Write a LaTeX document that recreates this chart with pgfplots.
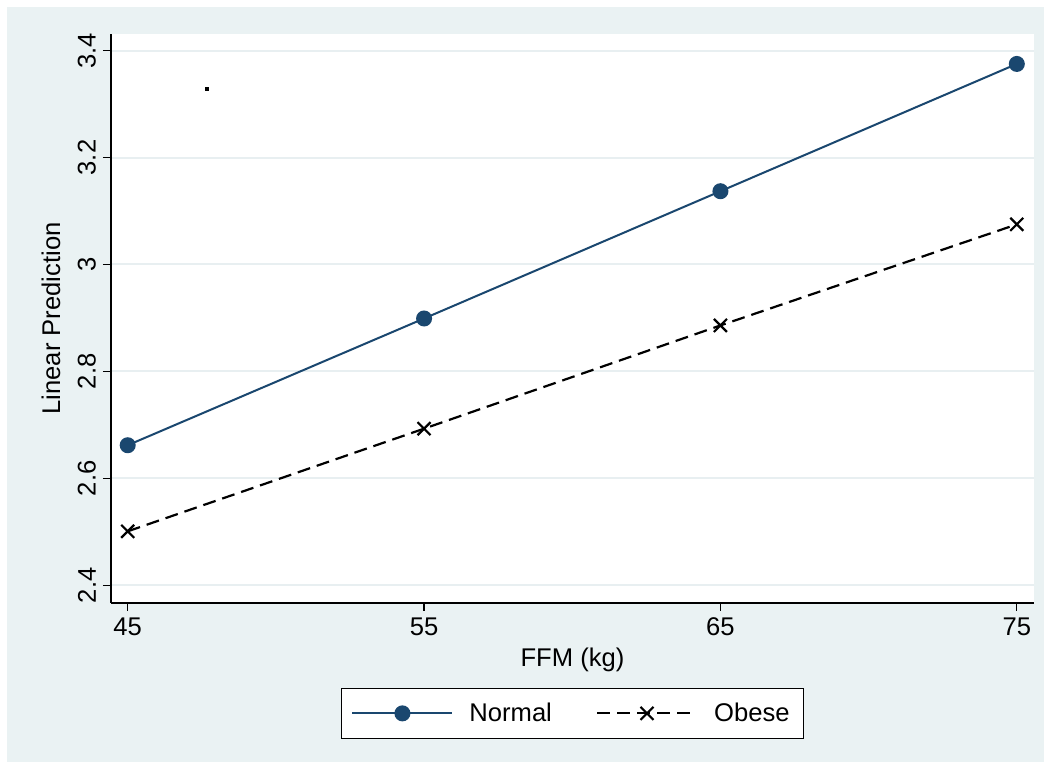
\documentclass[border=0pt]{standalone}
\usepackage{fontspec}
\setmainfont{Liberation Sans}
\usepackage{pgfplots}
\pgfplotsset{compat=1.18}
\definecolor{bgc}{HTML}{EAF2F3}
\definecolor{navy}{HTML}{1A476F}
\definecolor{gridc}{HTML}{E8EFF1}
\newcommand\f{\fontsize{12.8pt}{15pt}\selectfont}
\begin{document}
\begin{tikzpicture}
\useasboundingbox (0,0) rectangle (525.5pt,384.5pt);
\fill[bgc] (3.5pt,3.5pt) rectangle (522pt,381pt);
\begin{axis}[
  at={(55.5pt,83pt)}, anchor=south west,
  scale only axis, width=461.5pt, height=284.5pt,
  xmin=44.436, xmax=75.58, ymin=2.367, ymax=3.431,
  axis lines*=left, axis line style={-,line width=0.6pt},
  axis background/.style={fill=white},
  xtick={45,55,65,75}, ytick={2.4,2.6,2.8,3,3.2,3.4},
  ymajorgrids, grid style={gridc, line width=1pt},
  tick align=outside, major tick length=4pt, tick style={black,line width=0.6pt},
  /pgf/number format/assume math mode=true,
  tick label style={font=\f},
  yticklabel style={rotate=90, anchor=south},
  xlabel={FFM (kg)}, ylabel={Linear Prediction},
  label style={font=\f},
  xlabel style={at={(axis description cs:0.5,-0.1)}, anchor=center},
  ylabel style={at={(axis description cs:-0.065,0.5)}, anchor=center},
  legend columns=2,
  legend style={at={(axis description cs:0.5,-0.194)}, anchor=center, draw=black, fill=white, line width=0.6pt, font=\f,
    /tikz/every odd column/.append style={column sep=6pt},
    /tikz/every even column/.append style={column sep=20pt}, inner xsep=5pt, inner ysep=5pt},
  legend image code/.code={\draw[mark repeat=2,mark phase=2,#1] plot coordinates {(0pt,0pt) (25pt,0pt) (50pt,0pt)};},
]
\addplot[navy, line width=1pt, mark=*, mark size=3.5pt, mark options={fill=navy, solid}]
  coordinates {(45,2.662) (55,2.899) (65,3.137) (75,3.375)};
\addlegendentry{Normal}
\addplot[black, line width=1.1pt, dash pattern=on 6.5pt off 3.5pt, mark=x, mark size=4.6pt, mark options={solid, line width=1.1pt}]
  coordinates {(45,2.501) (55,2.693) (65,2.886) (75,3.075)};
\addlegendentry{Obese}
\addplot[black, only marks, mark=square*, mark size=0.75pt, forget plot]
  coordinates {(47.68,3.328)};
\end{axis}
\end{tikzpicture}
\end{document}
